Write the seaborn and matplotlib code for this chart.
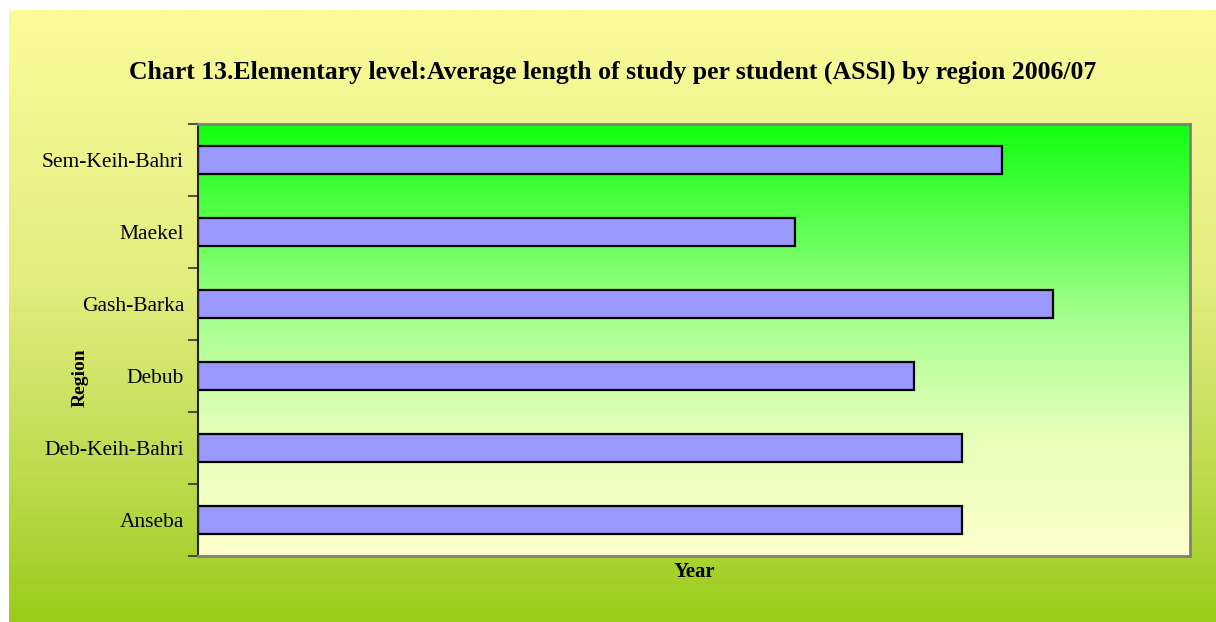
import numpy as np
import pandas as pd
import matplotlib
matplotlib.use("Agg")
import matplotlib.pyplot as plt
from matplotlib.colors import LinearSegmentedColormap
import seaborn as sns

# data (axis has no tick labels)
regions = ["Sem-Keih-Bahri", "Maekel", "Gash-Barka", "Debub", "Deb-Keih-Bahri", "Anseba"]
assl = [5.67, 4.21, 6.03, 5.05, 5.39, 5.39]
x_max = 7.0

df = pd.DataFrame({"Region": regions, "Year": assl})

sns.set_style("white")
plt.rcParams["font.family"] = ["Liberation Serif", "DejaVu Serif"]
plt.rcParams["text.color"] = "black"
plt.rcParams["ytick.color"] = "black"

fig = plt.figure(figsize=(12.16, 6.22), dpi=100)
fig.patch.set_facecolor("white")

# background of chart area: yellow -> yellow-green gradient
bg = fig.add_axes([9 / 1216, 0, 1 - 9 / 1216, 1 - 10 / 622], zorder=-10)
bg_cmap = LinearSegmentedColormap.from_list(
    "bg", [(0, "#FBFB9A"), (0.45, "#E3EC7E"), (0.75, "#BEDC50"), (1, "#9ACC1A")])
bg.imshow(np.linspace(0, 1, 256).reshape(-1, 1), cmap=bg_cmap, aspect="auto",
          extent=[0, 1, 0, 1], origin="upper")
bg.axis("off")

ax = fig.add_axes([198 / 1216, 1 - 556 / 622, (1190 - 198) / 1216, (556 - 124) / 622])

# plot area gradient: green on top -> pale yellow at bottom
pa_cmap = LinearSegmentedColormap.from_list(
    "pa", [(0, "#10FF10"), (0.45, "#A5FF8E"), (0.7, "#E3FFB8"), (1, "#FFFFCC")])
ax.imshow(np.linspace(0, 1, 256).reshape(-1, 1), cmap=pa_cmap, aspect="auto",
          extent=[0, 1, 0, 1], origin="upper", transform=ax.transAxes, zorder=0)

sns.barplot(data=df, x="Year", y="Region", orient="h", color="#9999FF",
            width=0.4, edgecolor="black", linewidth=1.6, saturation=1, ax=ax, zorder=2)

ax.set_xlim(0, x_max)
ax.set_ylim(len(regions) - 0.5, -0.5)
ax.set_xticks([])
ax.set_xlabel("")
ax.set_ylabel("")
ax.tick_params(axis="y", which="major", left=True, length=0, labelsize=15.5,
               labelcolor="black", pad=10)
ax.set_yticks(np.arange(-0.5, len(regions)), minor=True)
ax.tick_params(axis="y", which="minor", left=True, length=7, width=1.2,
               color="#333333", direction="out")

for side in ["top", "right", "bottom"]:
    ax.spines[side].set_color("#808080")
    ax.spines[side].set_linewidth(2)
ax.spines["left"].set_color("#222222")
ax.spines["left"].set_linewidth(1.5)
for sp in ax.spines.values():
    sp.set_visible(True)

fig.text(0.504, 1 - 72 / 622,
         "Chart 13.Elementary level:Average length of study per student (ASSl) by region 2006/07",
         ha="center", va="center", fontsize=18.5, fontweight="bold", color="black")
fig.text(694 / 1216, 1 - 572 / 622, "Year", ha="center", va="center",
         fontsize=15, fontweight="bold", color="black")
fig.text(80 / 1216, 1 - 378 / 622, "Region", ha="center", va="center",
         fontsize=14, fontweight="bold", rotation=90, color="black")

fig.savefig("out.png", dpi=100)
